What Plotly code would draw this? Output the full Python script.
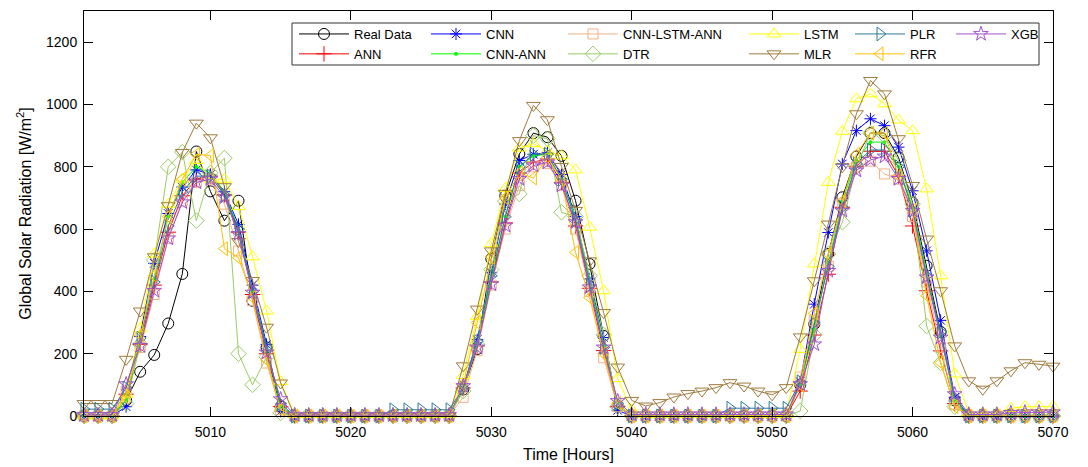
import plotly.graph_objects as go

# ---------------- data ----------------
hours = list(range(5001, 5071))

real_data = [0, 0, 0, 50, 142, 196, 297, 456, 849, 721, 627, 691, 370, 220, 30,
             0, 0, 0, 0, 0, 0, 0, 0, 0, 0, 0, 0,
             85, 215, 505, 707, 841, 908, 895, 835, 691, 488, 257, 30,
             0, 0, 0, 0, 0, 0, 0, 0, 0, 0, 0, 0,
             100, 295, 520, 702, 833, 908, 908, 830, 685, 482, 270, 50,
             0, 0, 0, 0, 0, 0, 0]
ann = [0, 0, 0, 70, 230, 420, 590, 707, 760, 770, 710, 590, 390, 200, 30,
       0, 0, 0, 0, 0, 0, 0, 0, 0, 0, 0, 0,
       90, 225, 430, 620, 780, 815, 825, 750, 610, 410, 210, 30,
       0, 0, 0, 0, 0, 0, 0, 0, 0, 0, 0, 0,
       80, 260, 455, 670, 800, 850, 850, 770, 610, 402, 209, 40,
       0, 0, 0, 0, 0, 0, 0]
cnn = [0, 0, 0, 30, 255, 490, 650, 735, 790, 775, 720, 615, 420, 230, 15,
       0, 0, 0, 0, 0, 0, 0, 0, 0, 0, 0, 0,
       90, 245, 460, 680, 820, 840, 845, 775, 640, 440, 252, 18,
       0, 0, 0, 0, 0, 0, 0, 0, 0, 0, 0, 0,
       110, 359, 589, 809, 916, 954, 932, 863, 723, 530, 307, 60,
       0, 0, 0, 0, 0, 0, 0]
cnn_ann = [0, 0, 0, 50, 240, 440, 640, 750, 800, 780, 720, 600, 400, 220, 30,
           0, 0, 0, 0, 0, 0, 0, 0, 0, 0, 0, 0,
           90, 235, 440, 640, 800, 835, 840, 760, 640, 430, 230, 40,
           0, 0, 0, 0, 0, 0, 0, 0, 0, 0, 0, 0,
           100, 280, 490, 690, 820, 879, 879, 800, 670, 460, 260, 50,
           0, 0, 0, 0, 0, 0, 0]
cnn_lstm_ann = [0, 0, 0, 80, 220, 390, 570, 690, 750, 760, 680, 530, 370, 170, 20,
                0, 0, 0, 0, 0, 0, 0, 0, 0, 0, 0, 0,
                60, 210, 420, 600, 740, 800, 810, 740, 600, 400, 187, 30,
                0, 0, 0, 0, 0, 0, 0, 0, 0, 0, 0, 0,
                125, 307, 480, 680, 800, 818, 777, 760, 640, 430, 220, 37,
                0, 0, 0, 0, 0, 0, 0]
dtr = [0, 0, 0, 40, 230, 500, 800, 847, 627, 780, 828, 200, 100, 190, 10,
       0, 0, 0, 0, 0, 0, 0, 0, 0, 0, 0, 0,
       80, 230, 470, 690, 713, 900, 890, 654, 640, 450, 260, 30,
       0, 0, 0, 0, 0, 0, 0, 0, 0, 0, 0, 0,
       16, 260, 520, 622, 800, 908, 900, 820, 680, 289, 170, 30,
       0, 0, 0, 0, 0, 0, 0]
lstm = [0, 0, 0, 70, 280, 520, 680, 761, 820, 760, 760, 672, 511, 337, 110,
        5, 5, 5, 5, 5, 5, 5, 5, 5, 5, 5, 5,
        130, 320, 553, 730, 860, 874, 850, 835, 790, 606, 402, 120,
        20, 5, 5, 5, 5, 5, 5, 5, 5, 5, 5, 5,
        214, 488, 750, 914, 1018, 1034, 1002, 950, 916, 729, 450, 135,
        10, 10, 10, 25, 30, 30, 30]
mlr = [40, 40, 40, 182, 337, 511, 675, 846, 940, 893, 736, 560, 435, 285, 106,
       0, 0, 0, 0, 0, 0, 0, 0, 0, 0, 0, 0,
       161, 343, 530, 715, 884, 997, 951, 801, 660, 498, 332, 157,
       50, 32, 43, 61, 72, 80, 91, 107, 96, 80, 68, 91,
       254, 434, 616, 800, 970, 1077, 1034, 890, 740, 568, 402, 225,
       113, 86, 113, 145, 171, 166, 160]
plr = [22, 22, 22, 90, 250, 430, 610, 720, 770, 770, 710, 600, 400, 220, 40,
       0, 0, 0, 0, 0, 0, 0, 20, 20, 20, 20, 20,
       90, 240, 450, 640, 800, 840, 840, 760, 630, 420, 220, 40,
       0, 0, 0, 0, 0, 0, 0, 25, 25, 25, 25, 25,
       110, 300, 480, 670, 810, 854, 854, 800, 660, 450, 270, 60,
       0, 0, 0, 0, 0, 0, 0]
rfr = [0, 0, 0, 60, 260, 450, 640, 760, 840, 836, 537, 508, 380, 180, 20,
       0, 0, 0, 0, 0, 0, 0, 0, 0, 0, 0, 0,
       100, 300, 510, 700, 780, 764, 830, 760, 525, 380, 200, 40,
       0, 0, 0, 0, 0, 0, 0, 0, 0, 0, 0, 0,
       100, 330, 520, 690, 840, 908, 908, 770, 660, 386, 171, 30,
       0, 0, 0, 0, 0, 0, 0]
xgb = [3, 3, 3, 102, 225, 402, 570, 686, 750, 760, 702, 584, 396, 204, 54,
       3, 3, 3, 3, 3, 3, 3, 3, 3, 3, 3, 3,
       96, 220, 423, 611, 761, 804, 814, 740, 622, 413, 220, 48,
       5, 5, 5, 5, 5, 5, 5, 5, 5, 5, 5, 5,
       102, 230, 466, 659, 788, 822, 833, 761, 659, 445, 252, 70,
       5, 5, 5, 10, 12, 12, 12]

series_names = ["Real Data", "ANN", "CNN", "CNN-ANN", "CNN-LSTM-ANN", "DTR",
                "LSTM", "MLR", "PLR", "RFR", "XGB"]
series_values = [real_data, ann, cnn, cnn_ann, cnn_lstm_ann, dtr,
                 lstm, mlr, plr, rfr, xgb]

x_ticks = [5010, 5020, 5030, 5040, 5050, 5060, 5070]
y_ticks = [0, 200, 400, 600, 800, 1000, 1200]

# ---------------- styles ----------------
styles = {
    "Real Data":    dict(color="#000000", symbol="circle-open", size=11),
    "ANN":          dict(color="#FF0000", symbol="cross-thin-open", size=11),
    "CNN":          dict(color="#0000FF", symbol="asterisk-open", size=10),
    "CNN-ANN":      dict(color="#00FF00", symbol="circle", size=3),
    "CNN-LSTM-ANN": dict(color="#F4B183", symbol="square-open", size=10),
    "DTR":          dict(color="#99CC66", symbol="diamond-open", size=12),
    "LSTM":         dict(color="#FFFF00", symbol="triangle-up-open", size=12),
    "MLR":          dict(color="#A07A3C", symbol="triangle-down-open", size=12),
    "PLR":          dict(color="#2A7B96", symbol="triangle-right-open", size=12),
    "RFR":          dict(color="#FFC000", symbol="triangle-left-open", size=12),
    "XGB":          dict(color="#A050D0", symbol="star-open", size=11),
}
legend_of = {
    "Real Data": "legend", "ANN": "legend",
    "CNN": "legend2", "CNN-ANN": "legend2",
    "CNN-LSTM-ANN": "legend3", "DTR": "legend3",
    "LSTM": "legend4", "MLR": "legend4",
    "PLR": "legend5", "RFR": "legend5",
    "XGB": "legend6",
}

W, H = 1088, 467
ML, MR, MT, MB = 84, 35, 11, 51
PW, PH = W - ML - MR, H - MT - MB


def px_x(px):
    return (px - ML) / PW


def px_y(py):
    return (H - MB - py) / PH


FONT = "Liberation Sans, Arial, sans-serif"

fig = go.Figure()
for name, vals in zip(series_names, series_values):
    st = styles[name]
    fig.add_trace(go.Scatter(
        x=hours, y=vals, name=name, mode="lines+markers",
        line=dict(color=st["color"], width=1),
        marker=dict(symbol=st["symbol"], size=st["size"], color=st["color"],
                    line=dict(color=st["color"], width=1)),
        cliponaxis=False,
        legend=legend_of[name],
    ))

axis_common = dict(showline=True, linecolor="black", linewidth=1, mirror="ticks",
                   ticks="inside", ticklen=9, tickcolor="black", tickwidth=1,
                   showgrid=False, zeroline=False, automargin=False,
                   tickfont=dict(family=FONT, size=14, color="black"))

# legend column positions (left edge px)
col_px = [294, 426, 563, 744, 850, 951]
leg_common = dict(orientation="v", xanchor="left", yanchor="top",
                  bgcolor="rgba(0,0,0,0)", borderwidth=0, tracegroupgap=0,
                  itemwidth=50,
                  font=dict(family=FONT, size=13, color="black"),
                  itemclick=False, itemdoubleclick=False)
legends = {}
for i, cx in enumerate(col_px):
    key = "legend" if i == 0 else "legend%d" % (i + 1)
    legends[key] = dict(leg_common, x=px_x(cx), y=px_y(19))

fig.update_layout(
    width=W, height=H, autosize=False,
    margin=dict(l=ML, r=MR, t=MT, b=MB, pad=0),
    paper_bgcolor="white", plot_bgcolor="white",
    font=dict(family=FONT, size=14, color="black"),
    xaxis=dict(axis_common, range=[5001, 5070], tickvals=x_ticks,
               ticktext=[str(v) for v in x_ticks], ticklabelstandoff=3,
               title=dict(text="Time [Hours]", font=dict(family=FONT, size=16), standoff=10)),
    yaxis=dict(axis_common, range=[0, 1300], tickvals=y_ticks,
               ticktext=[str(v) for v in y_ticks], ticklabelstandoff=3,
               title=dict(text="Global Solar Radiation [W/m<sup>2</sup>]",
                          font=dict(family=FONT, size=16), standoff=10)),
    showlegend=True,
    shapes=[dict(type="rect", xref="paper", yref="paper",
                 x0=px_x(292), x1=px_x(1039), y0=px_y(65), y1=px_y(23),
                 line=dict(color="#333333", width=1), fillcolor="white",
                 layer="above")],
    **legends,
)

fig.write_html("out.html")
